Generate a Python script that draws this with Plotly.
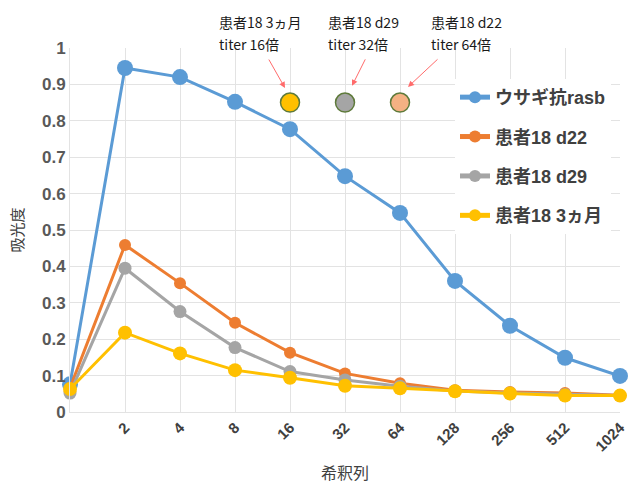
import plotly.graph_objects as go

x_labels = ["", "2", "4", "8", "16", "32", "64", "128", "256", "512", "1024"]
rabbit = [0.076, 0.945, 0.920, 0.852, 0.777, 0.648, 0.547, 0.360, 0.237, 0.149, 0.099]
d22 = [0.066, 0.459, 0.354, 0.245, 0.163, 0.106, 0.079, 0.060, 0.055, 0.052, 0.046]
d29 = [0.052, 0.395, 0.276, 0.177, 0.111, 0.088, 0.071, 0.058, 0.052, 0.048, 0.045]
m3 = [0.063, 0.218, 0.161, 0.115, 0.094, 0.072, 0.065, 0.057, 0.051, 0.045, 0.045]

series_names = ["ウサギ抗rasb", "患者18 d22", "患者18 d29", "患者18 3ヵ月"]
series_colors = ["#5B9BD5", "#ED7D31", "#A5A5A5", "#FFC000"]
marker_sizes = [16, 12, 13, 14]

titer_idx = [4, 5, 6]
titer_y = [0.85, 0.85, 0.85]
titer_colors = ["#FFC000", "#A5A5A5", "#F4B183"]
titer_line1 = ["患者18 3ヵ月", "患者18 d29", "患者18 d22"]
titer_line2 = ["titer 16倍", "titer 32倍", "titer 64倍"]

FONT = "Liberation Sans, Noto Sans CJK JP, sans-serif"
xs = list(range(len(x_labels)))

fig = go.Figure()
for i, (name, ys, col, ms) in enumerate(zip(series_names, [rabbit, d22, d29, m3], series_colors, marker_sizes)):
    fig.add_trace(go.Scatter(
        x=xs, y=ys, name=name, mode="lines+markers", legendgroup=f"g{i}",
        line=dict(color=col, width=3),
        marker=dict(color=col, size=ms),
        cliponaxis=False,
    ))

fig.add_trace(go.Scatter(
    x=titer_idx, y=titer_y, mode="markers", showlegend=False,
    marker=dict(color=titer_colors, size=19, line=dict(color="#5E7A3A", width=1.5)),
    cliponaxis=False,
))

# text labels (two lines each)
text_x = [0.267, 0.465, 0.652]
afont = dict(family="Liberation Sans Narrow, Noto Sans CJK JP", size=14, color="#1a1a1a")
for tx, l1, l2 in zip(text_x, titer_line1, titer_line2):
    fig.add_annotation(xref="paper", yref="paper", x=tx, y=1.071, xanchor="left", yanchor="middle",
                       text=l1, showarrow=False, align="left", font=afont)
    fig.add_annotation(xref="paper", yref="paper", x=tx, y=1.011, xanchor="left", yanchor="middle",
                       text=l2, showarrow=False, align="left", font=afont)
# arrows
arrows = [(4 - 5/55, 0.89, -17, -30), (5 + 7/55, 0.896, 14, -28), (6 + 8/55, 0.893, 31, -29)]
for hx, hy, ax, ay in arrows:
    fig.add_annotation(x=hx, y=hy, ax=ax, ay=ay, text="", showarrow=True,
                       arrowhead=2, arrowsize=1.2, arrowwidth=1, arrowcolor="#FF6B6B")

fig.update_layout(
    width=631, height=482,
    margin=dict(l=70, r=11, t=48, b=70, autoexpand=False),
    paper_bgcolor="white", plot_bgcolor="white",
    font=dict(family=FONT, color="#595959"),
    legend=dict(x=0.7, y=0.915, xanchor="left", yanchor="top", bgcolor="white",
                font=dict(size=18, color="#404040", family=FONT, weight="bold"),
                itemwidth=30, tracegroupgap=13, itemsizing="constant"),
    showlegend=True,
)
fig.update_xaxes(range=[0, 10], tickmode="array", tickvals=xs, ticktext=x_labels,
                 tickangle=-45, showgrid=True, gridcolor="#E3E3E3", zeroline=False,
                 showline=True, linecolor="#E3E3E3", automargin=False,
                 tickfont=dict(size=15, color="#404040", weight="bold"),
                 title=dict(text="希釈列", font=dict(size=16, color="#404040"), standoff=14))
fig.update_yaxes(range=[0, 1], dtick=0.1, showgrid=True, gridcolor="#E3E3E3",
                 zeroline=False, showline=True, linecolor="#E3E3E3", automargin=False,
                 tickfont=dict(size=17, color="#595959", weight="bold"),
                 title=dict(text="吸光度", font=dict(size=15, color="#404040"), standoff=14))

fig.write_html("out.html")
